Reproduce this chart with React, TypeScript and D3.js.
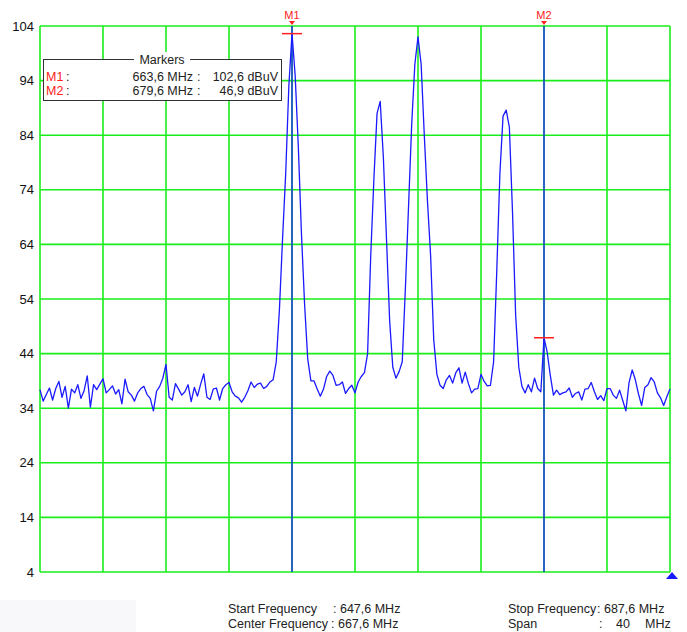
import React from 'react';
import * as d3 from 'd3';

// spectrum trace, 201 points from 647.6 to 687.6 MHz (0.2 MHz step), dBuV
const startFreq = 647.6;
const stopFreq = 687.6;
const traceValues = [
  37.4, 35.3, 36.5, 37.7, 35.5, 37.6, 38.9, 36.0, 38.0, 34.0,
  37.5, 36.8, 38.3, 35.8, 37.2, 39.9, 34.2, 38.3, 37.4, 38.4,
  39.4, 36.8, 37.4, 38.1, 36.6, 37.4, 34.8, 39.3, 37.0, 36.4,
  35.3, 36.8, 37.6, 38.0, 36.5, 35.8, 33.5, 37.1, 38.0, 39.5,
  42.0, 36.0, 35.5, 38.5, 37.5, 36.4, 37.0, 38.3, 35.2, 37.8,
  36.2, 38.4, 40.3, 36.0, 35.6, 37.5, 37.7, 35.5, 37.6, 38.3,
  38.7, 37.0, 36.2, 35.9, 35.1, 36.0, 37.2, 38.8, 37.8, 38.4,
  38.6, 37.6, 38.0, 38.8, 39.2, 42.5, 52.0, 65.0, 77.0, 93.0,
  102.6, 95.0, 82.0, 66.0, 53.0, 43.0, 39.0, 39.0, 37.5, 36.2,
  37.5, 39.8, 40.8, 40.0, 38.2, 38.3, 38.8, 36.7, 37.6, 38.2,
  36.8, 38.8, 39.8, 40.5, 44.0, 62.0, 76.0, 88.0, 90.2, 80.0,
  65.0, 50.0, 41.5, 39.5, 40.7, 42.5, 56.0, 71.0, 86.0, 97.0,
  102.0, 97.0, 84.0, 72.0, 62.0, 46.5, 40.2, 38.2, 37.6, 39.2,
  40.0, 38.6, 40.5, 41.4, 38.6, 40.6, 38.5, 36.8, 37.5, 37.6,
  40.2, 38.9, 38.1, 38.2, 42.5, 59.0, 77.0, 87.5, 88.6, 85.5,
  70.0, 51.0, 41.5, 38.0, 36.8, 38.3, 37.0, 39.5, 37.6, 37.0,
  46.9, 44.3, 40.0, 36.4, 37.3, 36.5, 36.8, 37.0, 37.7, 36.0,
  36.7, 37.0, 35.5, 37.5, 37.6, 38.7, 37.0, 35.6, 36.3, 35.4,
  37.6, 37.6, 36.4, 35.8, 37.3, 35.4, 33.5, 38.7, 41.0, 39.2,
  36.6, 34.5, 37.8, 38.3, 39.6, 38.8, 36.8, 35.9, 34.5, 36.1,
  37.5,
];

const yTicks = [4, 14, 24, 34, 44, 54, 64, 74, 84, 94, 104];
const xGridFreqs = [647.6, 651.6, 655.6, 659.6, 663.6, 667.6, 671.6, 675.6, 679.6, 683.6, 687.6];

const markerNames = ['M1', 'M2'];
const markerFreqs = [663.6, 679.6];
const markerLevels = [102.6, 46.9];
const markerFreqText = ['663,6 MHz', '679,6 MHz'];
const markerLevelText = ['102,6 dBuV', '46,9 dBuV'];

const left = 40;
const right = 670;
const top = 26;
const bottom = 572;

const GREEN = '#1aee1a';
const BLUE = '#1a1aff';
const RED = '#ff2020';
const FONT = '"Liberation Sans", Arial, sans-serif';

export default function App() {
  const step = (stopFreq - startFreq) / (traceValues.length - 1);
  const x = d3.scaleLinear().domain([startFreq, stopFreq]).range([left, right]);
  const y = d3.scaleLinear().domain([4, 104]).range([bottom, top]);

  const line = d3
    .line<number>()
    .x((_, i) => x(startFreq + i * step))
    .y((d) => y(d));

  return (
    <div style={{ position: 'absolute', left: 0, top: 0 }}>
      <svg width={687} height={632} style={{ display: 'block', background: '#fff' }} fontFamily={FONT}>
        <rect x={0} y={600} width={136} height={32} fill="#f8f8fb" />

        {/* grid */}
        {yTicks.map((t) => (
          <line key={'h' + t} x1={left} x2={right} y1={y(t)} y2={y(t)} stroke={GREEN} strokeWidth={1.6} />
        ))}
        {xGridFreqs.map((f) => (
          <line key={'v' + f} x1={x(f)} x2={x(f)} y1={top} y2={bottom} stroke={GREEN} strokeWidth={1.6} />
        ))}

        {/* y labels */}
        {yTicks.map((t) => (
          <text key={'yl' + t} x={34} y={y(t)} dy="0.35em" textAnchor="end" fontSize={13} fill="#111">
            {t}
          </text>
        ))}

        {/* marker lines */}
        {markerFreqs.map((f, i) => (
          <g key={'m' + i}>
            <line x1={x(f)} x2={x(f)} y1={top} y2={bottom} stroke={BLUE} strokeWidth={1.3} />
            <text x={x(f)} y={19} textAnchor="middle" fontSize={11} fill={RED}>
              {markerNames[i]}
            </text>
            <path d={`M${x(f) - 3},${21} L${x(f) + 3},${21} L${x(f)},${25} Z`} fill={RED} />
          </g>
        ))}

        {/* trace */}
        <path d={line(traceValues) || ''} fill="none" stroke={BLUE} strokeWidth={1.3} strokeLinejoin="round" />

        {/* marker level ticks */}
        {markerFreqs.map((f, i) => (
          <line
            key={'ml' + i}
            x1={x(f) - 10}
            x2={x(f) + 10}
            y1={y(markerLevels[i])}
            y2={y(markerLevels[i])}
            stroke={RED}
            strokeWidth={1.5}
          />
        ))}

        {/* markers box */}
        <rect x={43.5} y={59.5} width={238} height={41} fill="#fff" stroke="#333" strokeWidth={1} />
        <rect x={134} y={52} width={56} height={14} fill="#fff" />
        <text x={162} y={64} textAnchor="middle" fontSize={12.5} fill="#222">
          Markers
        </text>
        {markerNames.map((m, i) => (
          <g key={'mt' + i} fontSize={12.5}>
            <text x={46} y={81 + i * 14} fill={RED}>
              {m}
            </text>
            <text x={66} y={81 + i * 14} fill="#222">
              :
            </text>
            <text x={193} y={81 + i * 14} textAnchor="end" fill="#222">
              {markerFreqText[i]}
            </text>
            <text x={197} y={81 + i * 14} fill="#222">
              :
            </text>
            <text x={278} y={81 + i * 14} textAnchor="end" fill="#222">
              {markerLevelText[i]}
            </text>
          </g>
        ))}

        {/* end-of-span triangle */}
        <path d={`M${right + 2},${bottom} L${right + 8},${bottom + 7} L${right - 4},${bottom + 7} Z`} fill={BLUE} />

        {/* footer */}
        <g fontSize={12.5} fill="#222">
          <text x={228} y={613}>Start Frequency</text>
          <text x={333} y={613}>: 647,6 MHz</text>
          <text x={228} y={628}>Center Frequency</text>
          <text x={331} y={628}>: 667,6 MHz</text>
          <text x={508} y={613}>Stop Frequency</text>
          <text x={597} y={613}>: 687,6 MHz</text>
          <text x={508} y={628}>Span</text>
          <text x={599} y={628}>:</text>
          <text x={616} y={628}>40</text>
          <text x={645} y={628}>MHz</text>
        </g>
      </svg>
    </div>
  );
}
